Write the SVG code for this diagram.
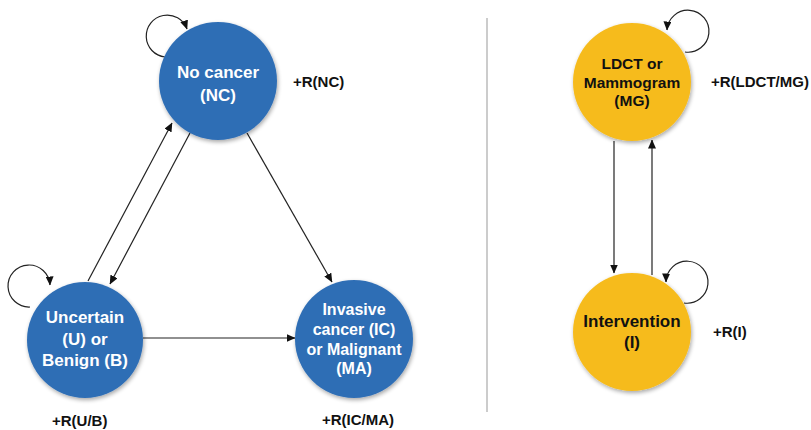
<svg xmlns="http://www.w3.org/2000/svg" width="811" height="430" viewBox="0 0 811 430">
<style>
.blue{fill:#2F6EB5;}
.gold{fill:#F6BB1C;}
.wt{font-family:"Liberation Sans",Arial,sans-serif;font-weight:bold;fill:#fff;text-anchor:middle;}
.bt{font-family:"Liberation Sans",Arial,sans-serif;font-weight:bold;fill:#111;text-anchor:middle;}
.rw{font-family:"Liberation Sans",Arial,sans-serif;font-weight:bold;fill:#111;font-size:15px;}
.ln{fill:none;stroke:#222;stroke-width:1.2;marker-end:url(#ah);}
</style>
<defs>
<marker id="ah" markerUnits="userSpaceOnUse" markerWidth="9" markerHeight="8" refX="8.5" refY="4" orient="auto">
<path d="M0,0 L9,4 L0,8 z" fill="#111"/>
</marker>
<filter id="sh" x="-20%" y="-20%" width="140%" height="140%">
<feGaussianBlur in="SourceAlpha" stdDeviation="2"/>
<feOffset dx="1" dy="2"/>
<feComponentTransfer><feFuncA type="linear" slope="0.35"/></feComponentTransfer>
<feMerge><feMergeNode/><feMergeNode in="SourceGraphic"/></feMerge>
</filter>
</defs>
<rect width="811" height="430" fill="#fff"/>
<line x1="487" y1="18" x2="487" y2="412" stroke="#999" stroke-width="1"/>
<g id="connectors">
<path class="ln" d="M165,57 A21,21 0 1 1 187,29"/>
<path class="ln" d="M30,307 A21,21 0 1 1 50,285"/>
<path class="ln" d="M685,52 A21,21 0 1 0 667,30"/>
<path class="ln" d="M684,303 A21,21 0 1 0 666,282"/>
<line class="ln" x1="88" y1="281" x2="172" y2="123"/>
<line class="ln" x1="190" y1="133" x2="110" y2="284"/>
<line class="ln" x1="247" y1="133" x2="332" y2="282"/>
<line class="ln" x1="143" y1="338" x2="295" y2="338"/>
<line class="ln" x1="614" y1="141" x2="614" y2="273"/>
<line class="ln" x1="652" y1="275" x2="652" y2="140"/>
</g>
<g id="nc">
<circle class="blue" cx="218" cy="81" r="59" filter="url(#sh)"/>
<text class="wt" font-size="17" x="218" y="78">No cancer</text>
<text class="wt" font-size="17" x="218" y="101">(NC)</text>
<text class="rw" x="293" y="87">+R(NC)</text>
</g>
<g id="ub">
<circle class="blue" cx="85" cy="340" r="58" filter="url(#sh)"/>
<text class="wt" font-size="17" x="85" y="323">Uncertain</text>
<text class="wt" font-size="17" x="85" y="345">(U) or</text>
<text class="wt" font-size="17" x="85" y="366">Benign (B)</text>
<text class="rw" x="52" y="426">+R(U/B)</text>
</g>
<g id="ic">
<circle class="blue" cx="354" cy="339" r="59" filter="url(#sh)"/>
<text class="wt" font-size="16" x="354" y="315">Invasive</text>
<text class="wt" font-size="16" x="354" y="335">cancer (IC)</text>
<text class="wt" font-size="16" x="354" y="355">or Malignant</text>
<text class="wt" font-size="16" x="354" y="374">(MA)</text>
<text class="rw" x="322" y="425">+R(IC/MA)</text>
</g>
<g id="mg">
<circle class="gold" cx="632" cy="82" r="59" filter="url(#sh)"/>
<text class="bt" font-size="15.5" x="632" y="69">LDCT or</text>
<text class="bt" font-size="15.5" x="632" y="88">Mammogram</text>
<text class="bt" font-size="15.5" x="632" y="106">(MG)</text>
<text class="rw" x="711" y="87">+R(LDCT/MG)</text>
</g>
<g id="int">
<circle class="gold" cx="632" cy="332" r="59" filter="url(#sh)"/>
<text class="bt" font-size="17" x="632" y="327">Intervention</text>
<text class="bt" font-size="17" x="632" y="348">(I)</text>
<text class="rw" x="713" y="337">+R(I)</text>
</g>
</svg>
